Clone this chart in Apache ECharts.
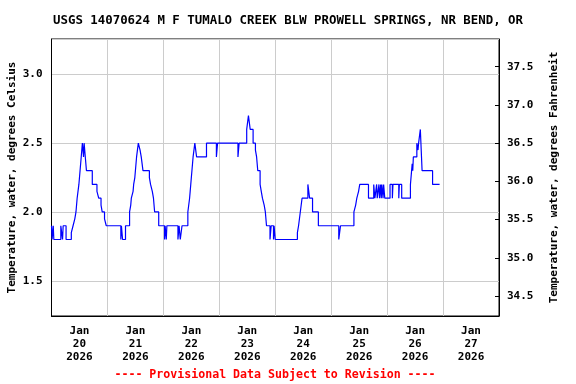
<!DOCTYPE html>
<html>
<head>
<meta charset="utf-8">
<script src="https://cdn.jsdelivr.net/npm/echarts@6/dist/echarts.min.js"></script>
<style>html,body{margin:0;padding:0;background:#fff}#c{width:576px;height:384px}</style>
</head>
<body>
<div id="c"></div>
<script>
const titleText = 'USGS 14070624 M F TUMALO CREEK BLW PROWELL SPRINGS, NR BEND, OR';
const noteText = '---- Provisional Data Subject to Revision ----';
const dayLabels = ['Jan\n20\n2026','Jan\n21\n2026','Jan\n22\n2026','Jan\n23\n2026','Jan\n24\n2026','Jan\n25\n2026','Jan\n26\n2026','Jan\n27\n2026'];
const celsiusTicks = [1.5, 2.0, 2.5, 3.0];
const fahrenheitTicks = [34.5, 35.0, 35.5, 36.0, 36.5, 37.0, 37.5];

// change points: temps[i] holds from times[i] until times[i+1]
const times = [
 '2026-01-20 00:00','2026-01-20 00:15','2026-01-20 00:45','2026-01-20 01:00','2026-01-20 04:00','2026-01-20 04:45','2026-01-20 05:00','2026-01-20 06:15',
 '2026-01-20 08:30','2026-01-20 09:15','2026-01-20 10:00','2026-01-20 10:30','2026-01-20 11:00','2026-01-20 11:45','2026-01-20 12:15','2026-01-20 12:45',
 '2026-01-20 13:15','2026-01-20 13:45','2026-01-20 14:00','2026-01-20 14:15','2026-01-20 14:30','2026-01-20 15:00','2026-01-20 17:30','2026-01-20 19:30',
 '2026-01-20 20:15','2026-01-20 21:15','2026-01-20 21:45','2026-01-20 22:45','2026-01-20 23:30',
 '2026-01-21 05:45','2026-01-21 06:00','2026-01-21 06:30','2026-01-21 07:45','2026-01-21 09:30','2026-01-21 10:00','2026-01-21 10:15','2026-01-21 11:00',
 '2026-01-21 11:15','2026-01-21 11:45','2026-01-21 12:00','2026-01-21 12:30','2026-01-21 13:15','2026-01-21 14:00','2026-01-21 14:30','2026-01-21 15:15',
 '2026-01-21 18:00','2026-01-21 18:30','2026-01-21 19:15','2026-01-21 19:45','2026-01-21 20:15','2026-01-21 22:00',
 '2026-01-22 00:30','2026-01-22 00:45','2026-01-22 01:15','2026-01-22 01:30','2026-01-22 06:15','2026-01-22 06:45','2026-01-22 07:15','2026-01-22 08:00',
 '2026-01-22 10:30','2026-01-22 11:15','2026-01-22 11:30','2026-01-22 11:45','2026-01-22 12:00','2026-01-22 12:15','2026-01-22 12:45','2026-01-22 13:30',
 '2026-01-22 14:15','2026-01-22 18:30','2026-01-22 22:45','2026-01-22 23:15',
 '2026-01-23 08:00','2026-01-23 08:30','2026-01-23 11:45','2026-01-23 12:30','2026-01-23 13:15','2026-01-23 14:30','2026-01-23 15:30','2026-01-23 16:00',
 '2026-01-23 16:30','2026-01-23 17:30','2026-01-23 18:00','2026-01-23 18:30','2026-01-23 19:15','2026-01-23 19:45','2026-01-23 20:15','2026-01-23 21:45',
 '2026-01-23 22:15','2026-01-23 23:15','2026-01-23 23:30',
 '2026-01-24 00:00','2026-01-24 09:30','2026-01-24 10:00','2026-01-24 10:45','2026-01-24 11:30','2026-01-24 14:00','2026-01-24 14:45','2026-01-24 16:00',
 '2026-01-24 18:30',
 '2026-01-25 03:15','2026-01-25 04:00','2026-01-25 09:45','2026-01-25 10:30','2026-01-25 11:00','2026-01-25 11:45','2026-01-25 12:15','2026-01-25 16:00',
 '2026-01-25 18:15','2026-01-25 18:45','2026-01-25 19:30','2026-01-25 19:45','2026-01-25 20:30','2026-01-25 20:45','2026-01-25 21:15','2026-01-25 21:30',
 '2026-01-25 21:45','2026-01-25 22:15','2026-01-25 22:30','2026-01-25 23:00',
 '2026-01-26 01:15','2026-01-26 02:15','2026-01-26 02:30','2026-01-26 05:00','2026-01-26 05:15','2026-01-26 06:15','2026-01-26 10:00','2026-01-26 10:30',
 '2026-01-26 10:45','2026-01-26 11:00','2026-01-26 11:15','2026-01-26 12:45','2026-01-26 13:15','2026-01-26 13:30','2026-01-26 14:15','2026-01-26 14:30',
 '2026-01-26 14:45','2026-01-26 15:00','2026-01-26 19:30','2026-01-26 22:30'
];
const temps = [
 1.9,1.8,1.9,1.8,1.9,1.8,1.9,1.8,
 1.85,1.9,1.95,2.0,2.1,2.2,2.3,2.4,
 2.5,2.4,2.5,2.45,2.4,2.3,2.2,2.15,
 2.1,2.05,2.0,1.95,1.9,
 1.8,1.9,1.8,1.9,2.0,2.05,2.1,2.15,
 2.2,2.25,2.3,2.4,2.5,2.45,2.4,2.3,
 2.25,2.2,2.15,2.1,2.0,1.9,
 1.8,1.9,1.8,1.9,1.8,1.9,1.8,1.9,
 2.0,2.1,2.15,2.2,2.25,2.3,2.4,2.5,
 2.4,2.5,2.4,2.5,
 2.4,2.5,2.6,2.7,2.6,2.5,2.45,2.4,
 2.3,2.2,2.15,2.1,2.05,2.0,1.9,1.8,
 1.9,1.8,1.9,
 1.8,1.85,1.9,2.0,2.1,2.2,2.1,2.0,
 1.9,
 1.8,1.9,2.0,2.05,2.1,2.15,2.2,2.1,
 2.2,2.1,2.2,2.1,2.2,2.1,2.2,2.1,
 2.2,2.1,2.2,2.1,
 2.2,2.1,2.2,2.1,2.2,2.1,2.2,2.3,
 2.35,2.3,2.4,2.5,2.45,2.5,2.6,2.5,
 2.4,2.3,2.2,2.2
];

const mono = 'DejaVu Sans Mono';
const cMin = 1.244, cMax = 3.257;
const chart = echarts.init(document.getElementById('c'), null, {renderer: 'canvas'});
chart.setOption({
  animation: false,
  backgroundColor: '#ffffff',
  title: {
    text: titleText, left: 'center', top: 10,
    textStyle: {fontFamily: mono, fontSize: 12.4, fontWeight: 'bold', color: '#000'}
  },
  grid: {left: 51.5, right: 77, top: 39, bottom: 68, containLabel: false, outerBoundsMode: 'none',
    show: true, borderColor: '#000', borderWidth: 1, backgroundColor: 'transparent'},
  graphic: [{
    type: 'text', x: 275, y: 375,
    style: {text: noteText, fill: '#ff0000', font: 'bold 11.6px "DejaVu Sans Mono"', textAlign: 'center', textVerticalAlign: 'middle'}
  }],
  xAxis: [{
    type: 'category', data: dayLabels, boundaryGap: true, position: 'bottom',
    axisLine: {show: true, lineStyle: {color: '#000', width: 1}},
    axisTick: {show: false},
    splitLine: {show: true, interval: 0, lineStyle: {color: '#cccccc', width: 1}},
    axisLabel: {interval: 0, margin: 9, fontFamily: mono, fontSize: 11, fontWeight: 'bold', color: '#000', lineHeight: 13}
  }, {
    type: 'time', min: '2026-01-20 00:00', max: '2026-01-28 00:00', show: false
  }],
  yAxis: [{
    type: 'value', position: 'left', min: cMin, max: cMax, splitNumber: 4,
    name: 'Temperature, water, degrees Celsius', nameLocation: 'middle', nameGap: 34, nameMoveOverlap: false,
    nameTextStyle: {fontFamily: mono, fontSize: 11, fontWeight: 'bold', color: '#000'},
    axisLine: {show: true, lineStyle: {color: '#000', width: 1}},
    axisTick: {show: false},
    splitLine: {show: true, lineStyle: {color: '#cccccc', width: 1}},
    axisLabel: {
      showMinLabel: false, showMaxLabel: false, margin: 9,
      fontFamily: mono, fontSize: 11, fontWeight: 'bold', color: '#000',
      formatter: v => celsiusTicks.some(t => Math.abs(t - v) < 1e-6) ? v.toFixed(1) : ''
    }
  }, {
    type: 'value', position: 'right', min: cMin * 1.8 + 32, max: cMax * 1.8 + 32, splitNumber: 7,
    name: 'Temperature, water, degrees Fahrenheit', nameLocation: 'middle', nameGap: 50, nameMoveOverlap: false,
    nameTextStyle: {fontFamily: mono, fontSize: 11, fontWeight: 'bold', color: '#000'},
    axisLine: {show: true, lineStyle: {color: '#000', width: 1}},
    axisTick: {show: true, inside: true, length: 4, lineStyle: {color: '#000'}},
    splitLine: {show: false},
    axisLabel: {
      showMinLabel: false, showMaxLabel: false, margin: 8,
      fontFamily: mono, fontSize: 11, fontWeight: 'bold', color: '#000',
      formatter: v => fahrenheitTicks.some(t => Math.abs(t - v) < 1e-6) ? v.toFixed(1) : ''
    }
  }],
  series: [{
    type: 'line', xAxisIndex: 1, yAxisIndex: 0, step: 'end', showSymbol: false, symbol: 'none',
    lineStyle: {color: '#0000ff', width: 1.2}, itemStyle: {color: '#0000ff'},
    data: times.map((t, i) => [t, temps[i]])
  }]
});
</script>
</body>
</html>
